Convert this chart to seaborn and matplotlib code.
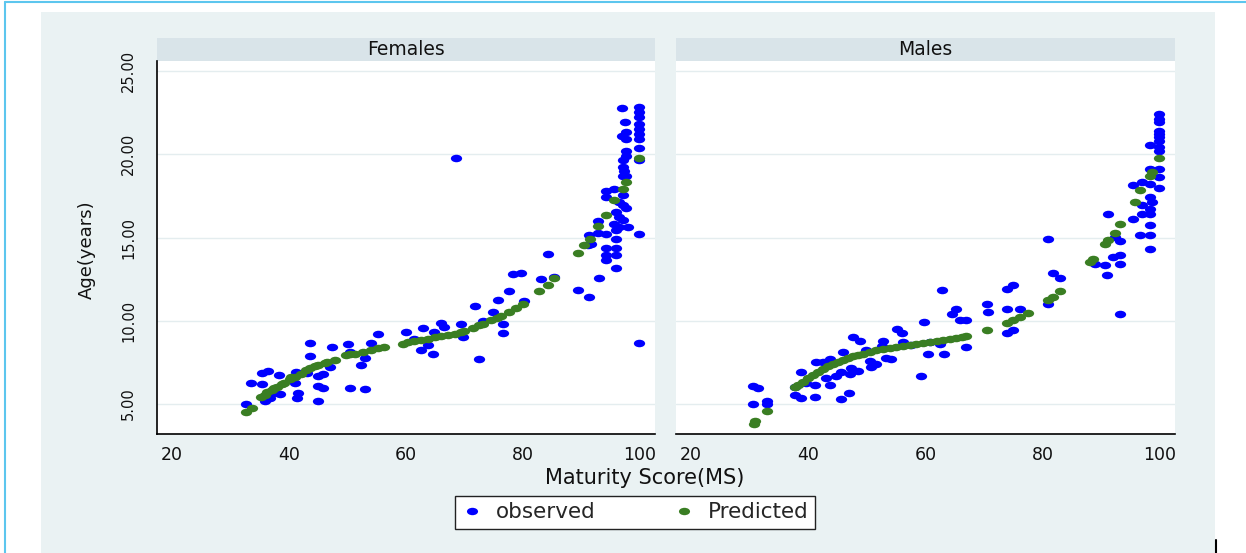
import pandas as pd
import matplotlib
matplotlib.use("Agg")
import matplotlib.pyplot as plt
from matplotlib.path import Path
from matplotlib.patches import Rectangle
from matplotlib.lines import Line2D
import seaborn as sns

# ---- data ----
fem_obs_ms = [96.95, 99.8, 99.8, 99.8, 99.8, 99.8, 99.8, 99.8, 97.47, 96.95, 97.64, 97.64, 99.92, 97.64, 97.64,
              97.07, 99.92, 68.58, 97.07, 97.35, 97.07, 97.64, 94.22, 95.64, 94.22, 97.07, 96.5, 97.07, 97.64,
              95.93, 96.5, 97.07, 95.64, 96.5, 97.92, 95.93, 92.79, 92.79, 94.22, 91.37, 95.93, 99.8, 91.08,
              91.65, 94.22, 95.93, 94.22, 95.93, 94.22, 95.93, 84.25, 93.08, 78.26, 79.69, 83.11, 85.39, 89.37,
              91.37, 77.69, 75.7, 71.82, 74.84, 80.26, 73.14, 76.55, 76.55, 69.43, 69.72, 66.01, 66.58, 62.88,
              60.03, 61.45, 64.87, 63.73, 62.59, 64.59, 72.57, 55.19, 54.05, 50.34, 52.91, 52.91, 99.8,
              32.68, 33.53, 35.36, 36.38, 35.36, 38.26, 35.81, 36.67, 38.38, 37.24, 41.23, 40.94, 41.51, 41.34,
              43.51, 43.51, 43.05, 44.93, 45.78, 44.93, 45.78, 44.93, 47.38, 47.04, 50.06, 50.34, 52.34]
fem_obs_age = [22.78, 22.82, 22.52, 22.22, 21.82, 21.52, 21.22, 20.92, 21.96, 21.12, 21.32, 20.92, 20.38, 20.22, 19.92,
               19.66, 19.66, 19.76, 19.22, 19.02, 18.67, 18.67, 17.79, 17.93, 17.43, 17.53, 17.13, 16.93, 16.79,
               16.53, 16.23, 16.03, 15.83, 15.63, 15.63, 15.43, 15.99, 15.27, 15.19, 15.13, 14.93, 15.23, 14.53,
               14.63, 14.39, 14.39, 13.93, 13.93, 13.67, 13.17, 14.03, 12.59, 12.83, 12.87, 12.53, 12.63, 11.83,
               11.41, 11.81, 11.23, 10.87, 10.51, 11.19, 9.99, 9.79, 9.29, 9.79, 9.03, 9.87, 9.63, 9.59,
               9.33, 8.93, 9.33, 8.53, 8.23, 8.03, 7.71, 9.23, 8.69, 8.13, 7.79, 5.88, 8.67,
               5.0, 6.28, 6.88, 7.0, 6.2, 6.74, 5.2, 5.34, 5.6, 5.64, 6.94, 6.28, 5.64, 5.38,
               8.69, 7.88, 6.84, 6.68, 6.8, 6.1, 5.94, 5.2, 8.44, 7.2, 8.58, 5.94, 7.34]

fem_pred_ms = [32.68, 33.6, 35.2, 35.8, 36.2, 37.0, 37.5, 38.0, 38.7, 39.2, 40.1, 40.4, 41.0, 42.1, 42.9, 43.5,
               44.4, 45.0, 46.1, 46.5, 47.8, 49.8, 50.5, 51.2, 52.6, 54.05, 55.2, 56.3, 59.5, 60.3, 61.45, 62.6,
               63.7, 64.9, 66.0, 67.1, 68.3, 69.4, 70.0, 71.4, 72.5, 73.1, 74.6, 75.5, 76.3, 77.7, 78.8, 80.0,
               82.8, 84.25, 85.4, 89.4, 90.5, 91.4, 92.8, 94.2, 95.6, 97.1, 97.6, 99.9]
fem_pred_age = [4.54, 4.74, 5.4, 5.54, 5.7, 5.85, 5.94, 6.05, 6.2, 6.24, 6.5, 6.6, 6.65, 6.8, 7.07, 7.15,
                7.27, 7.35, 7.47, 7.55, 7.67, 7.93, 7.98, 8.03, 8.13, 8.27, 8.35, 8.43, 8.63, 8.7, 8.79, 8.86,
                8.93, 9.01, 9.09, 9.16, 9.23, 9.3, 9.39, 9.59, 9.72, 9.83, 10.07, 10.17, 10.27, 10.55, 10.79, 11.03,
                11.79, 12.13, 12.59, 14.07, 14.53, 14.93, 15.67, 16.33, 17.23, 17.93, 18.33, 19.78]

male_obs_ms = [99.88, 99.88, 99.88, 99.88, 99.88, 99.88, 99.88, 98.34, 99.88, 99.88, 98.34, 99.88, 99.88, 95.49,
               96.92, 98.34, 99.88, 98.34, 98.63, 96.92, 98.34, 96.92, 98.34, 95.49, 98.34, 96.63, 98.34, 98.34,
               91.22, 80.96, 93.21, 92.36, 93.21, 92.07, 93.21, 90.65, 88.94, 90.93, 81.82, 82.96, 80.96, 93.21,
               73.84, 74.98, 70.42, 70.71, 73.84, 76.12, 73.84, 74.98, 62.9, 65.29, 64.61, 65.86, 67.0, 59.71,
               55.15, 56.06, 56.18, 52.76, 52.64, 47.63, 48.77, 49.91, 45.92, 42.5, 43.64, 41.36, 38.8, 37.66,
               39.65, 41.08, 43.07, 44.78, 45.63, 47.06, 43.64, 47.34, 48.48, 50.48, 50.76, 51.62, 53.33, 54.18,
               60.45, 63.13, 66.89, 59.31, 30.54, 31.39, 46.95, 37.66, 38.8, 41.08, 45.63, 62.44, 60.73, 57.6,
               30.5, 33.0, 33.0]
male_obs_age = [22.42, 22.12, 21.92, 21.42, 21.22, 21.02, 20.82, 20.58, 20.42, 20.22, 19.12, 19.12, 18.63, 18.13,
                18.33, 18.23, 17.99, 17.43, 17.13, 16.93, 16.73, 16.43, 16.39, 16.09, 15.73, 15.17, 15.17, 14.31,
                16.39, 14.89, 14.79, 15.03, 13.93, 13.83, 13.39, 13.33, 13.39, 12.73, 12.87, 12.57, 10.99, 10.43,
                11.93, 12.13, 10.99, 10.53, 10.69, 10.73, 9.29, 9.43, 11.85, 10.73, 10.39, 10.07, 10.07, 9.93,
                9.53, 9.29, 8.73, 8.79, 8.51, 9.03, 8.79, 8.23, 8.13, 7.53, 7.73, 7.51, 6.9, 6.04,
                6.24, 6.14, 6.54, 6.68, 6.94, 6.8, 6.14, 7.18, 7.0, 7.57, 7.24, 7.43, 7.79, 7.73,
                7.99, 8.03, 8.43, 6.68, 6.08, 5.94, 5.68, 5.54, 5.34, 5.44, 5.28, 8.63, 8.73, 8.53,
                5.0, 5.2, 5.0]

male_pred_ms = [30.75, 30.9, 33.0, 37.66, 38.3, 39.08, 39.9, 40.79, 41.6, 42.5, 43.3, 44.21, 45.0, 45.92, 46.8,
                47.63, 48.5, 49.34, 50.5, 51.62, 52.8, 53.9, 55.0, 56.18, 57.3, 58.45, 59.6, 60.73, 61.9, 63.01,
                64.1, 65.29, 66.2, 67.0, 70.42, 73.84, 74.98, 76.12, 77.54, 80.96, 81.82, 82.96, 88.09, 88.65,
                90.65, 91.22, 92.36, 93.21, 95.78, 96.63, 98.34, 98.63, 99.88]
male_pred_age = [3.8, 4.0, 4.6, 6.0, 6.15, 6.34, 6.55, 6.74, 6.95, 7.13, 7.28, 7.43, 7.55, 7.67, 7.78,
                 7.87, 7.96, 8.03, 8.13, 8.23, 8.32, 8.39, 8.45, 8.51, 8.57, 8.63, 8.68, 8.73, 8.78, 8.83,
                 8.9, 8.97, 9.03, 9.09, 9.47, 9.87, 10.07, 10.23, 10.47, 11.23, 11.43, 11.77, 13.53, 13.73,
                 14.63, 14.83, 15.29, 15.79, 17.15, 17.83, 18.67, 18.92, 19.78]

panels = ["Females", "Males"]
yticks = [5, 10, 15, 20, 25]
ytick_labels = ["5.00", "10.00", "15.00", "20.00", "25.00"]
xticks = [20, 40, 60, 80, 100]

obs = pd.concat([
    pd.DataFrame({"ms": fem_obs_ms, "age": fem_obs_age, "sex": "Females"}),
    pd.DataFrame({"ms": male_obs_ms, "age": male_obs_age, "sex": "Males"}),
])
pred = pd.concat([
    pd.DataFrame({"ms": fem_pred_ms, "age": fem_pred_age, "sex": "Females"}),
    pd.DataFrame({"ms": male_pred_ms, "age": male_pred_age, "sex": "Males"}),
])

sns.set_theme(style="white")
plt.rcParams['font.family'] = ['DejaVu Sans']

blue = "#0000FF"
green = "#3A7E23"
bg = "#EAF2F3"
strip_col = "#D9E4E9"

# stata-ish squashed dots
circ = Path.unit_circle()
ell = Path(circ.vertices * [1.5, 1.0], circ.codes)

W, H = 1246, 553
fig = plt.figure(figsize=(W / 100, H / 100), dpi=100)
fig.patch.set_facecolor("white")
fig.add_artist(Rectangle((41 / W, 0), (1215 - 41) / W, 1 - 12 / H, transform=fig.transFigure,
                         facecolor=bg, edgecolor="none", zorder=-10))
fig.add_artist(Line2D([5 / W, 5 / W], [0, 1 - 2 / H], color="#5CC6EE", lw=1.5, transform=fig.transFigure))
fig.add_artist(Line2D([5 / W, 1], [1 - 2 / H, 1 - 2 / H], color="#5CC6EE", lw=1.5, transform=fig.transFigure))
fig.add_artist(Line2D([1216 / W, 1216 / W], [0, 13 / H], color="black", lw=1.5, transform=fig.transFigure))

bottom = 1 - 434 / H
height = 373 / H
ax1 = fig.add_axes([157 / W, bottom, 498 / W, height])
ax2 = fig.add_axes([676 / W, bottom, 499 / W, height])

for ax, name in zip([ax1, ax2], panels):
    ax.set_facecolor("white")
    sns.scatterplot(data=obs[obs.sex == name], x="ms", y="age", color=blue, marker=ell, s=66,
                    linewidth=0, ax=ax, zorder=3)
    sns.scatterplot(data=pred[pred.sex == name], x="ms", y="age", color=green, marker=ell, s=66,
                    linewidth=0, ax=ax, zorder=4)
    ax.set_xlim(17.4, 102.6)
    ax.set_ylim(3.2, 25.6)
    ax.set_xticks(xticks)
    ax.set_xticklabels([str(t) for t in xticks], fontsize=12.5)
    ax.set_yticks(yticks)
    ax.yaxis.grid(True, color="#E4EDEF", lw=1)
    ax.set_axisbelow(True)
    ax.set_xlabel("")
    ax.set_ylabel("")
    ax.tick_params(axis="x", length=5, width=1, pad=4, color="black", labelcolor="#111111")
    for s in ["top", "right"]:
        ax.spines[s].set_visible(False)
    ax.spines["bottom"].set_color("black")
    ax.spines["bottom"].set_linewidth(1.2)
    # facet header
    ax.add_patch(Rectangle((0, 1), 1, 23 / 373, transform=ax.transAxes, clip_on=False,
                           facecolor=strip_col, edgecolor="none"))
    ax.text(0.5, 1 + 11.5 / 373, name, transform=ax.transAxes, ha="center", va="center",
            fontsize=13.5, color="#111111")

ax1.set_yticklabels(ytick_labels, rotation=90, va="center", fontsize=10.5)
ax1.tick_params(axis="y", length=10, width=1, pad=5, color="black", labelcolor="#111111")
ax1.spines["left"].set_color("black")
ax1.spines["left"].set_linewidth(1.2)
ax2.spines["left"].set_visible(False)
ax2.tick_params(axis="y", length=0, labelleft=False)

fig.text(86.7 / W, 1 - 250 / H, "Age(years)", rotation=90, ha="center", va="center",
         fontsize=13, color="#111111")
fig.text(644.5 / W, 1 - 478 / H, "Maturity Score(MS)", ha="center", va="center",
         fontsize=15, color="#111111")

handles = [Line2D([], [], ls="", marker=ell, markersize=8, color=blue, markeredgewidth=0),
           Line2D([], [], ls="", marker=ell, markersize=8, color=green, markeredgewidth=0)]
leg = fig.legend(handles, ["observed", "Predicted"], loc="center",
                 bbox_to_anchor=(635 / W, 1 - 512.5 / H), ncol=2, frameon=True, fancybox=False,
                 fontsize=15.5, handlelength=1.0, handletextpad=0.6, columnspacing=3.6, borderpad=0.3,
                 borderaxespad=0)
leg.get_frame().set_edgecolor("#222222")
leg.get_frame().set_linewidth(1.0)
leg.get_frame().set_facecolor("white")
leg.get_frame().set_alpha(1)

fig.savefig("out.png", dpi=100)
